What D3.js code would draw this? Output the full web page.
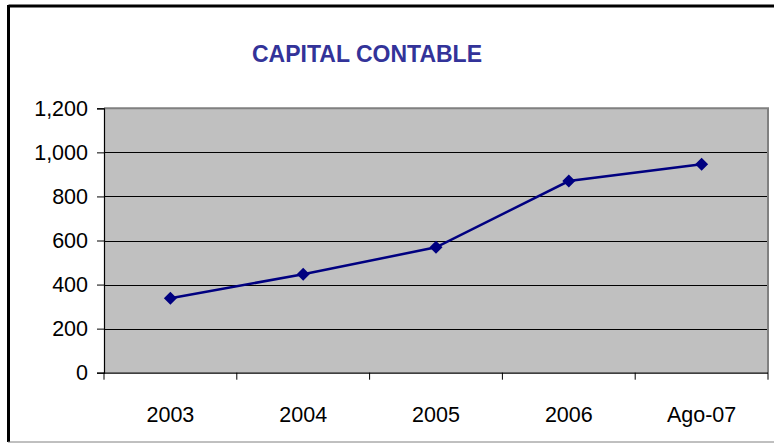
<!DOCTYPE html>
<html>
<head>
<meta charset="utf-8">
<script src="https://cdn.jsdelivr.net/npm/d3@7"></script>
<style>
  body { margin: 0; background: #fff; }
  svg { display: block; font-family: Arial, "Liberation Sans", sans-serif; }
</style>
</head>
<body>
<div class="chart"></div>
<script>
// categorías y valores (capital contable)
const categories = ['2003', '2004', '2005', '2006', 'Ago-07'];
const values = [338, 447, 569, 870, 946];
const yTicks = [0, 200, 400, 600, 800, 1000, 1200];

const W = 774, H = 443;
const plot = { left: 104, top: 108.3, right: 768, bottom: 372.7 };

const svg = d3.select('.chart')
  .append('svg')
  .attr('width', W)
  .attr('height', H);

// marco exterior
svg.append('line').attr('x1', 8.5).attr('x2', W).attr('y1', 6).attr('y2', 6)
  .attr('stroke', '#000').attr('stroke-width', 3);
svg.append('line').attr('x1', 8.5).attr('x2', 8.5).attr('y1', 5).attr('y2', 442)
  .attr('stroke', '#000').attr('stroke-width', 3);
svg.append('line').attr('x1', 8).attr('x2', W).attr('y1', 442).attr('y2', 442)
  .attr('stroke', '#808080').attr('stroke-width', 1);

// título
svg.append('text')
  .attr('x', 367)
  .attr('y', 62)
  .attr('text-anchor', 'middle')
  .attr('font-size', '23px')
  .attr('font-weight', 'bold')
  .attr('fill', '#333399')
  .text('CAPITAL CONTABLE');

const x = d3.scaleBand()
  .domain(categories)
  .range([plot.left, plot.right]);

const y = d3.scaleLinear()
  .domain([0, 1200])
  .range([plot.bottom, plot.top]);

// área de trazado
svg.append('rect')
  .attr('x', plot.left)
  .attr('y', plot.top)
  .attr('width', plot.right - plot.left)
  .attr('height', plot.bottom - plot.top)
  .attr('fill', '#c0c0c0');

// líneas de cuadrícula
svg.selectAll('.grid')
  .data(yTicks.filter((d) => d > 0 && d < 1200))
  .join('line')
  .attr('class', 'grid')
  .attr('x1', plot.left)
  .attr('x2', plot.right)
  .attr('y1', (d) => Math.round(y(d)) + 0.5)
  .attr('y2', (d) => Math.round(y(d)) + 0.5)
  .attr('stroke', '#000')
  .attr('stroke-width', 1);

// borde gris arriba y derecha
svg.append('path')
  .attr('d', `M${plot.left},${plot.top} H${plot.right} V${plot.bottom}`)
  .attr('fill', 'none')
  .attr('stroke', '#808080')
  .attr('stroke-width', 2);

// eje Y
const yAxis = svg.append('g')
  .attr('transform', `translate(${plot.left},0)`)
  .call(d3.axisLeft(y).tickValues(yTicks).tickFormat(d3.format(',')).tickSize(7).tickPadding(9));

// eje X
const xAxis = svg.append('g')
  .attr('transform', `translate(0,${plot.bottom})`)
  .call(d3.axisBottom(x).tickSize(0).tickPadding(34));

// marcas del eje X en los bordes de categoría
svg.selectAll('.xtick')
  .data(categories.concat(['end']))
  .join('line')
  .attr('class', 'xtick')
  .attr('x1', (d, i) => plot.left + i * x.step())
  .attr('x2', (d, i) => plot.left + i * x.step())
  .attr('y1', plot.bottom)
  .attr('y2', plot.bottom + 7)
  .attr('stroke', '#000');

[yAxis, xAxis].forEach((g) => {
  g.select('.domain').attr('stroke', '#000').attr('stroke-width', 1.2);
  g.selectAll('text')
    .attr('font-size', '21.5px')
    .attr('font-family', 'Arial, "Liberation Sans", sans-serif')
    .attr('fill', '#000');
});
xAxis.select('.domain').attr('d', `M${plot.left},0.5H${plot.right}`);

// línea de la serie
const cx = (d, i) => x(categories[i]) + x.bandwidth() / 2;
svg.append('path')
  .datum(values)
  .attr('fill', 'none')
  .attr('stroke', '#000080')
  .attr('stroke-width', 2.5)
  .attr('d', d3.line().x(cx).y((d) => y(d)));

// marcadores en rombo
svg.selectAll('.marker')
  .data(values)
  .join('path')
  .attr('class', 'marker')
  .attr('transform', (d, i) => `translate(${cx(d, i)},${y(d)})`)
  .attr('d', 'M0,-6.5L6.5,0L0,6.5L-6.5,0Z')
  .attr('fill', '#000080');
</script>
</body>
</html>
